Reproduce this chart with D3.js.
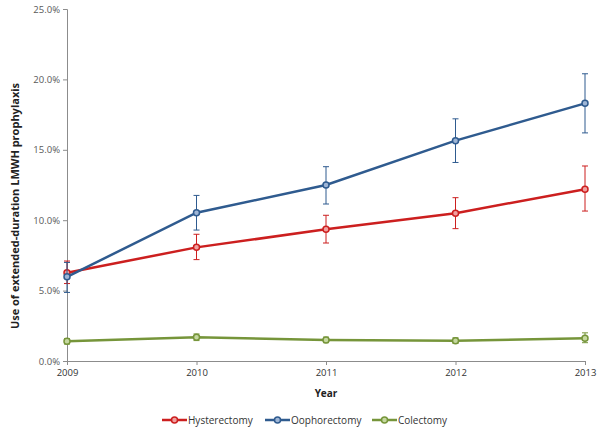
<!DOCTYPE html>
<html>
<head>
<meta charset="utf-8">
<script src="https://cdn.jsdelivr.net/npm/d3@7"></script>
<style>
  body { margin: 0; background: #fff; }
  svg text { font-family: "Open Sans", "Liberation Sans", sans-serif; }
</style>
</head>
<body>
<svg id="chart" width="600" height="433"></svg>
<script>
// data (percent)
const years = [2009, 2010, 2011, 2012, 2013];
const yTicks = [0, 5, 10, 15, 20, 25];

const hysterectomy = [6.27, 8.07, 9.35, 10.5, 12.2];
const hysterectomyLow = [5.5, 7.2, 8.38, 9.4, 10.65];
const hysterectomyHigh = [7.1, 9.0, 10.35, 11.6, 13.85];

const oophorectomy = [5.98, 10.53, 12.5, 15.65, 18.3];
const oophorectomyLow = [4.87, 9.3, 11.15, 14.1, 16.2];
const oophorectomyHigh = [7.0, 11.76, 13.8, 17.2, 20.4];

const colectomy = [1.4, 1.68, 1.49, 1.44, 1.61];
const colectomyLow = [1.2, 1.45, 1.3, 1.25, 1.3];
const colectomyHigh = [1.6, 1.92, 1.7, 1.65, 2.0];

const seriesNames = ["Hysterectomy", "Oophorectomy", "Colectomy"];
const seriesColors = ["#cc1f1f", "#2f5b8f", "#76953a"];
const seriesFills = ["#f0a0a0", "#9fb6d6", "#c5d8a0"];

let series = [
    {name: seriesNames[0], vals: hysterectomy, lo: hysterectomyLow, hi: hysterectomyHigh},
    {name: seriesNames[1], vals: oophorectomy, lo: oophorectomyLow, hi: oophorectomyHigh},
    {name: seriesNames[2], vals: colectomy, lo: colectomyLow, hi: colectomyHigh}
];

let svg = d3.select("#chart");
let margin = {left: 67, right: 15, top: 9, bottom: 72};
let width = 600 - margin.left - margin.right;
let height = 433 - margin.top - margin.bottom;

let x = d3.scaleLinear().domain([2009, 2013]).range([0, width]);
let y = d3.scaleLinear().domain([0, 25]).range([height, 0]);

let g = svg.append("g").attr("transform", "translate(" + margin.left + "," + margin.top + ")");

// y axis
let yAxis = g.append("g")
    .call(d3.axisLeft(y).tickValues(yTicks).tickSize(4).tickFormat(d => d.toFixed(1) + "%"));
yAxis.select(".domain").attr("stroke", "#8c8c8c");
yAxis.selectAll(".tick line").attr("stroke", "#8c8c8c");
yAxis.selectAll(".tick text").attr("fill", "#595959").style("font-size", "9.5px").attr("x", -7);

// x axis
let xAxis = g.append("g")
    .attr("transform", "translate(0," + height + ")")
    .call(d3.axisBottom(x).tickValues(years).tickSize(4).tickFormat(d3.format("d")));
xAxis.select(".domain").attr("stroke", "#8c8c8c");
xAxis.selectAll(".tick line").attr("stroke", "#8c8c8c");
xAxis.selectAll(".tick text").attr("fill", "#333").style("font-size", "9.5px").attr("y", 8);

// axis titles
g.append("text")
    .attr("x", width / 2).attr("y", height + 36)
    .attr("text-anchor", "middle")
    .style("font-size", "10px").style("font-weight", "bold").attr("fill", "#222")
    .text("Year");

g.append("text")
    .attr("transform", "rotate(-90)")
    .attr("x", -197).attr("y", -48)
    .attr("text-anchor", "middle")
    .style("font-size", "11px").style("font-weight", "bold").attr("fill", "#222")
    .text("Use of extended-duration LMWH prophylaxis");

let line = d3.line()
    .x((d, i) => x(years[i]))
    .y(d => y(d));

series.forEach(function(s, k) {
    let sg = g.append("g");
    // error bars
    years.forEach(function(yr, i) {
        let cx = x(yr);
        sg.append("line").attr("x1", cx).attr("x2", cx)
            .attr("y1", y(s.lo[i])).attr("y2", y(s.hi[i]))
            .attr("stroke", seriesColors[k]).attr("stroke-width", 1);
        [s.lo[i], s.hi[i]].forEach(function(v) {
            sg.append("line").attr("x1", cx - 3).attr("x2", cx + 3)
                .attr("y1", y(v)).attr("y2", y(v))
                .attr("stroke", seriesColors[k]).attr("stroke-width", 1);
        });
    });
    sg.append("path")
        .datum(s.vals)
        .attr("d", line)
        .attr("fill", "none")
        .attr("stroke", seriesColors[k])
        .attr("stroke-width", 2.5);
    sg.selectAll("circle")
        .data(s.vals)
        .enter().append("circle")
        .attr("cx", (d, i) => x(years[i]))
        .attr("cy", d => y(d))
        .attr("r", 3)
        .attr("fill", seriesFills[k])
        .attr("stroke", seriesColors[k])
        .attr("stroke-width", 1.5);
});

// legend
let legendX = [162, 265, 372];
let legend = svg.append("g").attr("transform", "translate(0,420)");
seriesNames.forEach(function(name, k) {
    let lg = legend.append("g").attr("transform", "translate(" + legendX[k] + ",0)");
    lg.append("line").attr("x1", 0).attr("x2", 25).attr("y1", 0).attr("y2", 0)
        .attr("stroke", seriesColors[k]).attr("stroke-width", 2.5);
    lg.append("circle").attr("cx", 12.5).attr("cy", 0).attr("r", 3)
        .attr("fill", seriesFills[k]).attr("stroke", seriesColors[k]).attr("stroke-width", 1.5);
    lg.append("text").attr("x", 26).attr("y", 3.5)
        .style("font-size", "10px").attr("fill", "#333")
        .text(name);
});
</script>
</body>
</html>
